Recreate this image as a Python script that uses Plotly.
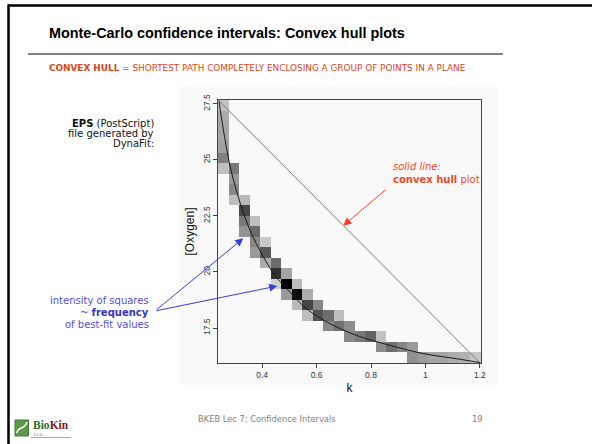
import plotly.graph_objects as go

# ---------------- data ----------------
k_bins = [0.2573, 0.2959, 0.3346, 0.3732, 0.4119, 0.4505, 0.4892, 0.5278, 0.5664,
          0.6051, 0.6437, 0.6824, 0.7210, 0.7596, 0.7983, 0.8369, 0.8756, 0.9142,
          0.9529, 0.9915, 1.0301, 1.0688, 1.1074, 1.1461, 1.1847]
o_bins = [27.435, 26.966, 26.497, 26.028, 25.559, 25.089, 24.620, 24.151, 23.682,
          23.213, 22.744, 22.274, 21.805, 21.336, 20.867, 20.398, 19.929, 19.459,
          18.990, 18.521, 18.052, 17.583, 17.114, 16.644, 16.175]

# occupied cells: column index (k), row index (oxygen, from top), frequency
cell_col = [0, 0, 0, 0, 0, 0, 0,
            1, 1, 1, 1,
            2, 2, 2, 2,
            3, 3, 3, 3,
            4, 4, 4,
            5, 5, 5,
            6, 6, 6,
            7, 7, 7,
            8, 8, 8,
            9, 9,
            10, 10,
            11, 11,
            12, 12,
            13, 14,
            15, 15,
            16, 17,
            18, 18,
            19, 20, 21, 22, 23, 24]
cell_row = [0, 1, 2, 3, 4, 5, 6,
            6, 7, 8, 9,
            9, 10, 11, 12,
            11, 12, 13, 14,
            13, 14, 15,
            15, 16, 17,
            16, 17, 18,
            17, 18, 19,
            18, 19, 20,
            19, 20,
            20, 21,
            20, 21,
            21, 22,
            22, 22,
            22, 23,
            23, 23,
            23, 24,
            24, 24, 24, 24, 24, 24]
cell_freq = [12, 22, 25, 25, 27, 42, 13,
             45, 30, 38, 14,
             16, 68, 45, 33,
             13, 52, 38, 30,
             9, 60, 22,
             52, 78, 5,
             25, 100, 30,
             15, 95, 15,
             22, 68, 14,
             38, 62,
             50, 38,
             14, 48,
             36, 38,
             45, 55,
             12, 37,
             50, 40,
             30, 35,
             30, 25, 25, 22, 20, 10]

# best-fit model curve
curve_k = [0.242, 0.257, 0.279, 0.300, 0.330, 0.361, 0.398, 0.447, 0.502, 0.563,
           0.649, 0.747, 0.869, 0.992, 1.115, 1.2]
curve_o = [27.6, 26.40, 24.91, 23.87, 22.68, 21.71, 20.82, 19.85, 19.11, 18.36,
           17.70, 17.17, 16.73, 16.36, 16.13, 15.96]

# convex hull chord
hull_k = [0.24, 1.2]
hull_o = [27.66, 15.95]

x_ticks = [0.4, 0.6, 0.8, 1, 1.2]
x_ticktext = ["0.4", "0.6", "0.8", "1", "1.2"]
y_ticks = [17.5, 20, 22.5, 25, 27.5]
y_ticktext = ["17.5", "20", "22.5", "25", "27.5"]

# ---------------- figure ----------------
W, H = 592, 444
ML, MR, MT, MB = 218, 111, 100, 81
PW, PH = W - ML - MR, H - MT - MB


def px(x):
    return (x - ML) / PW


def py(y):
    return 1 - (y - MT) / PH


z = [[None] * len(k_bins) for _ in o_bins]
for c, r, f in zip(cell_col, cell_row, cell_freq):
    z[r][c] = f

fig = go.Figure()
fig.add_trace(go.Heatmap(
    x=k_bins, y=o_bins, z=z, zmin=0, zmax=100,
    colorscale=[[0, "#dcdcdc"], [1, "#000000"]],
    showscale=False, hoverinfo="skip"))
fig.add_trace(go.Scatter(x=hull_k, y=hull_o, mode="lines",
                         line=dict(color="#7a7a7a", width=1), hoverinfo="skip"))
fig.add_trace(go.Scatter(x=curve_k, y=curve_o, mode="lines",
                         line=dict(color="#1a1a1a", width=1, shape="spline"),
                         hoverinfo="skip"))

axis_common = dict(showgrid=False, zeroline=False, showline=True, mirror=True,
                   linecolor="#444", linewidth=1, ticks="outside", ticklen=4,
                   tickcolor="#444", tickfont=dict(family="Liberation Sans", size=8.5, color="#333"))
fig.update_xaxes(range=[0.238, 1.204], tickvals=x_ticks, ticktext=x_ticktext,
                 title=dict(text="k", font=dict(family="Liberation Sans", size=12, color="#111"),
                            standoff=4), **axis_common)
fig.update_yaxes(range=[15.94, 27.67], tickvals=y_ticks, ticktext=y_ticktext, tickangle=-90,
                 title=dict(text="[Oxygen]", font=dict(family="Liberation Sans", size=12, color="#111"),
                            standoff=4), **axis_common)

shapes = [
    dict(type="rect", xref="paper", yref="paper", x0=px(180), x1=px(497), y0=py(87), y1=py(385),
         fillcolor="#f9f9f9", line=dict(width=0), layer="below"),
    dict(type="line", xref="paper", yref="paper", x0=px(8), x1=px(592), y0=py(5.5), y1=py(5.5),
         line=dict(color="#000", width=2.5)),
    dict(type="line", xref="paper", yref="paper", x0=px(8.5), x1=px(8.5), y0=py(4.5), y1=py(444),
         line=dict(color="#000", width=2.5)),
    dict(type="line", xref="paper", yref="paper", x0=px(28), x1=px(503), y0=py(54), y1=py(54),
         line=dict(color="#000", width=1)),
    dict(type="rect", xref="paper", yref="paper", x0=px(15), x1=px(28.5), y0=py(420), y1=py(436),
         fillcolor="#5a9a4a", line=dict(color="#3f7a35", width=1)),
    dict(type="path", xref="paper", yref="paper",
         path=f"M {px(16.5)},{py(433)} C {px(20)},{py(424)} {px(23)},{py(432)} {px(27)},{py(422)}",
         line=dict(color="#ffffff", width=1.5)),
    dict(type="line", xref="paper", yref="paper", x0=px(31), x1=px(71), y0=py(437.5), y1=py(437.5),
         line=dict(color="#aaaaaa", width=1)),
]

ann = []


def text(x, y, t, size, color, xanchor="left", family="DejaVu Sans", align="left"):
    ann.append(dict(xref="paper", yref="paper", x=px(x), y=py(y), text=t, showarrow=False,
                    xanchor=xanchor, yanchor="middle", align=align,
                    font=dict(family=family, size=size, color=color)))


text(47, 33, "<b>Monte-Carlo confidence intervals: Convex hull plots</b>", 14.4, "#000",
     family="Liberation Sans")
text(47, 68, "<b>CONVEX HULL</b> = SHORTEST PATH COMPLETELY ENCLOSING A GROUP OF POINTS IN A PLANE",
     8.9, "#d9461c")
text(155.5, 123, "<b>EPS</b> (PostScript)", 10, "#111", xanchor="right")
text(155.5, 133, "file generated by", 10, "#111", xanchor="right")
text(155.5, 143, "DynaFit:", 10, "#111", xanchor="right")
text(151, 300.7, "intensity of squares", 10, "#4f4fd6", xanchor="right")
text(151, 312.5, "~ <b><span style='color:#3333bb'>frequency</span></b>", 10, "#4f4fd6", xanchor="right")
text(151, 324, "of best-fit values", 10, "#4f4fd6", xanchor="right")
text(390.5, 166.7, "<i>solid line:</i>", 10, "#f04a2a")
text(390.5, 179.3, "<b>convex hull</b> plot", 10, "#f04a2a")
text(267, 419, "BKEB Lec 7: Confidence Intervals", 8.3, "#808080", xanchor="center")
text(477.5, 419, "19", 8.3, "#808080", xanchor="center")
text(31, 425, "<b><span style='color:#2f6e2a'>Bio</span><span style='color:#7a1a1a'>Kin</span></b>",
     11.5, "#2f6e2a", family="Liberation Serif")
text(32, 434.5, "L t d.", 4, "#555", family="Liberation Serif")


def arrow(hx, hy, tx, ty, color):
    ann.append(dict(xref="paper", yref="paper", x=px(hx), y=py(hy), ax=tx - hx, ay=ty - hy,
                    axref="pixel", ayref="pixel", text="", showarrow=True,
                    arrowhead=2, arrowsize=1.6, arrowwidth=1, arrowcolor=color, standoff=0))


arrow(243.3, 238.3, 155, 311, "#3a3ae0")
arrow(277.3, 286, 155, 311, "#3a3ae0")
arrow(343.3, 225.7, 387.3, 188.3, "#ff3a2a")

fig.update_layout(width=W, height=H, margin=dict(l=ML, r=MR, t=MT, b=MB),
                  paper_bgcolor="#ffffff", plot_bgcolor="#fcfcfc", showlegend=False,
                  shapes=shapes, annotations=ann)

fig.write_html("out.html", config={"displayModeBar": False},
               post_script="document.body.style.margin='0px';document.body.style.overflow='hidden';")
